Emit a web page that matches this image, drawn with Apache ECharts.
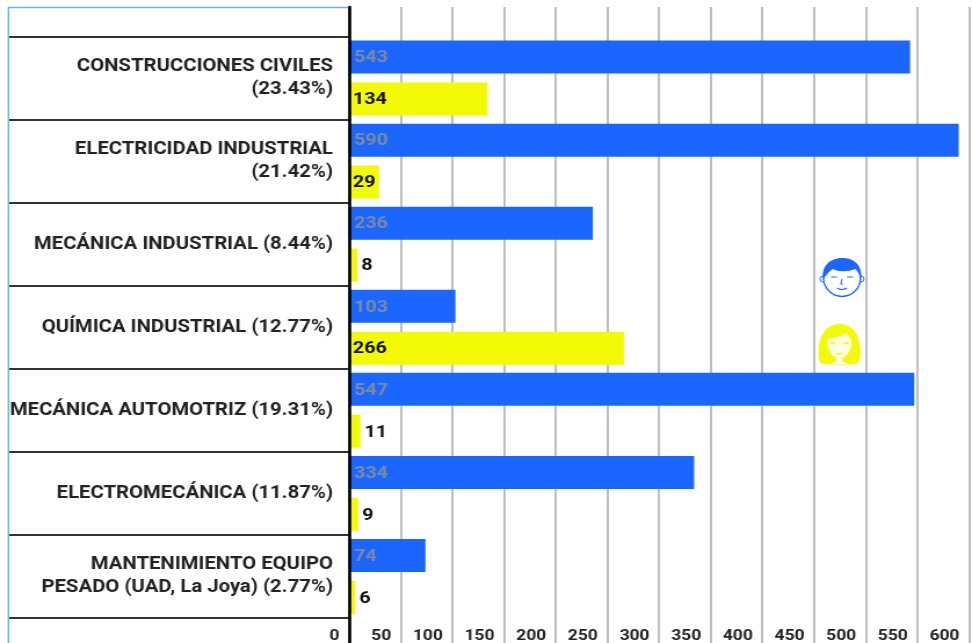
<!DOCTYPE html>
<html><head><meta charset="utf-8">
<style>html,body{margin:0;padding:0;background:#fff;overflow:hidden}#c{width:838px;height:643px;transform-origin:0 0;transform:scaleX(1.15990)}</style>
<script src="https://cdn.jsdelivr.net/npm/echarts@6/dist/echarts.min.js"></script>
</head><body><div id="c"></div>
<script>
const categories = ['CONSTRUCCIONES CIVILES\n(23.43%)','ELECTRICIDAD INDUSTRIAL\n(21.42%)','MECÁNICA INDUSTRIAL (8.44%)','QUÍMICA INDUSTRIAL (12.77%)','MECÁNICA AUTOMOTRIZ (19.31%)','ELECTROMECÁNICA (11.87%)','MANTENIMIENTO EQUIPO\nPESADO (UAD, La Joya) (2.77%)'];
const hombres = [543,590,236,103,547,334,74];
const mujeres = [134,29,8,266,11,9,6];
const BLUE='#1a66ff', YEL='#f2fa05';
const font='Roboto';
const S=972/838, sx=v=>v/S;
const reg=(n,d)=>echarts.graphic.registerShape(n,echarts.graphic.extendPath(d));
reg('manHair','M-19 2 C-21 -14 -10 -20 0 -20 C12 -20 21 -13 19 2 C17 -4 16 -7 13 -9 C6 -6 -4 -6 -9 -9 C-13 -7 -16 -3 -19 2 Z');
reg('manFace','M-11 -1 L-5 -1 M5 -1 L11 -1 M0 1 L-1 6 L1 6 M-5 10 Q0 13 5 10');
reg('womanHair','M-19 19 C-23 12 -23 -20 0 -20 C23 -20 23 12 19 19 C14 21 -14 21 -19 19 Z');
reg('womanSkin','M-12 -5 C-6 -6 3 -8 7 -11 C9 -8 11 -6 12 -4 C13 7 6 13 3 14 L3 17 L9 20 L-9 20 L-3 17 L-3 14 C-7 13 -13 7 -12 -5 Z');
reg('womanFace','M-9 -1 L-4 -1 M4 -1 L9 -1 M-3 9 Q0 11 3 9');
const chart = echarts.init(document.getElementById('c'),null,{renderer:'canvas',width:838,height:643});
const frame=(shape)=>({type:'line',shape,style:{stroke:'#6db3dc',lineWidth:1.5},z:1});
chart.setOption({
  animation:false,
  backgroundColor:'#fff',
  grid:[
    {left:sx(349),width:sx(620),top:36.5,bottom:25,outerBoundsMode:'none'},
    {left:sx(349),width:sx(620),top:7,bottom:0,outerBoundsMode:'none'}
  ],
  xAxis:[
    {gridIndex:0,type:'value',min:0,max:600,interval:50,axisLine:{show:false},axisTick:{show:false},splitLine:{show:false},
     axisLabel:{show:true,align:'right',padding:[0,sx(9.5),0,0],margin:11,fontFamily:font,fontWeight:700,fontSize:15,color:'#222',showMaxLabel:true,showMinLabel:true}},
    {gridIndex:1,type:'value',min:0,max:600,interval:50,axisLine:{show:false},axisTick:{show:false},axisLabel:{show:false},
     splitLine:{show:true,lineStyle:{color:'#a8a8a8',width:1.5}}}
  ],
  yAxis:[
    {gridIndex:0,type:'category',inverse:true,data:categories,axisLine:{show:false},
     axisTick:{show:true,length:sx(340),lineStyle:{color:'#333',width:2}},
     axisLabel:{margin:sx(16),align:'right',fontFamily:font,fontWeight:700,fontSize:17.5,lineHeight:23,color:'#222',padding:[2,0,0,0]}},
    {gridIndex:1,type:'value',min:0,max:1,z:5,axisLine:{show:true,lineStyle:{color:'#000',width:2.6}},axisTick:{show:false},axisLabel:{show:false},splitLine:{show:false}}
  ],
  series:[
    {type:'bar',name:'Hombres',xAxisIndex:0,yAxisIndex:0,data:hombres,barWidth:33,barGap:'27%',
     itemStyle:{color:BLUE},
     label:{show:true,position:'insideLeft',distance:sx(5),offset:[0,1],fontFamily:font,fontWeight:700,fontSize:17,color:'#7f8a9c'}},
    {type:'bar',name:'Mujeres',xAxisIndex:0,yAxisIndex:0,barWidth:33,barGap:'27%',
     data:mujeres.map(v=>({value:v,label:{position:v<20?'right':'insideLeft'}})),
     itemStyle:{color:YEL},
     label:{show:true,distance:sx(4),offset:[0,1],fontFamily:font,fontWeight:700,fontSize:17,color:'#111'}}
  ],
  graphic:[
    frame({x1:sx(8.5),y1:7.5,x2:sx(8.5),y2:643}),
    frame({x1:sx(8),y1:7.5,x2:sx(349),y2:7.5}),
    {type:'group',x:sx(842),y:278,scaleX:1/S,z:10,children:[
      {type:'circle',shape:{cx:-19,cy:1,r:3},style:{fill:'#fff',stroke:BLUE,lineWidth:1}},
      {type:'circle',shape:{cx:19,cy:1,r:3},style:{fill:'#fff',stroke:BLUE,lineWidth:1}},
      {type:'circle',shape:{cx:0,cy:0,r:18.5},style:{fill:'#fff',stroke:BLUE,lineWidth:1.5}},
      {type:'manHair',style:{fill:BLUE}},
      {type:'manFace',style:{fill:null,stroke:BLUE,lineWidth:1.2}}
    ]},
    {type:'group',x:sx(839.5),y:344,scaleX:1/S,z:10,children:[
      {type:'womanHair',style:{fill:YEL}},
      {type:'womanSkin',style:{fill:'#fdfde0'}},
      {type:'womanFace',style:{fill:null,stroke:YEL,lineWidth:1.3}}
    ]}
  ]
});
</script></body></html>
